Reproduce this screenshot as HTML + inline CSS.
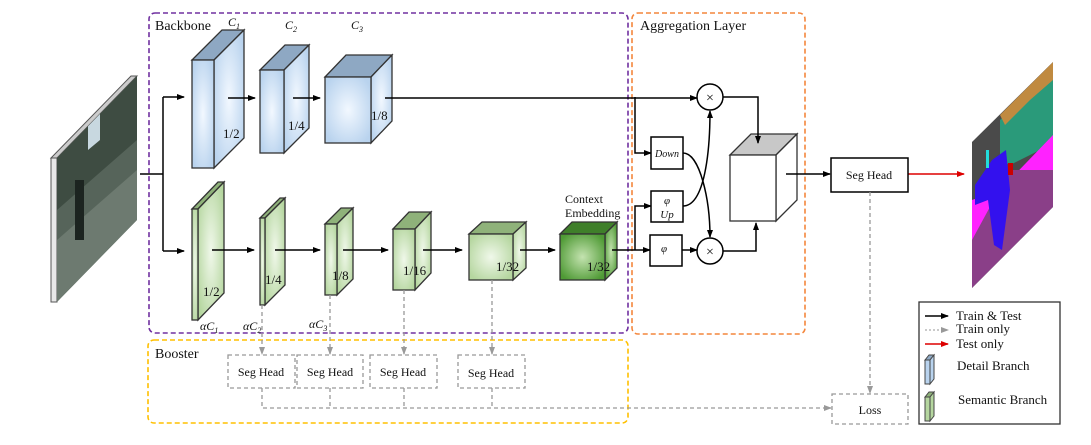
<!DOCTYPE html>
<html><head><meta charset="utf-8"><style>
html,body{margin:0;padding:0;background:#fff}
svg{display:block}
text{font-family:"Liberation Serif",serif;fill:#111}
</style></head><body>
<svg width="1091" height="445" viewBox="0 0 1091 445" xmlns="http://www.w3.org/2000/svg">
<defs>
<marker id="a" markerWidth="8" markerHeight="8" refX="7" refY="4" orient="auto" markerUnits="userSpaceOnUse"><path d="M0,1 L8,4 L0,7z" fill="#000"/></marker>
<marker id="ag" markerWidth="8" markerHeight="8" refX="7" refY="4" orient="auto" markerUnits="userSpaceOnUse"><path d="M0,1 L8,4 L0,7z" fill="#999"/></marker>
<marker id="ar" markerWidth="8" markerHeight="8" refX="7" refY="4" orient="auto" markerUnits="userSpaceOnUse"><path d="M0,1 L8,4 L0,7z" fill="#d00"/></marker>
<radialGradient id="bl" cx="50%" cy="50%" r="60%"><stop offset="0" stop-color="#f2f8ff"/><stop offset="1" stop-color="#b9d3ee"/></radialGradient>
<radialGradient id="gr" cx="50%" cy="50%" r="60%"><stop offset="0" stop-color="#f0f8ea"/><stop offset="1" stop-color="#b5d69f"/></radialGradient>
<radialGradient id="dg" cx="50%" cy="50%" r="60%"><stop offset="0" stop-color="#c4e3b0"/><stop offset="1" stop-color="#4f9a35"/></radialGradient>
<clipPath id="seg"><polygon points="972,142 1053,62 1053,207 972,288"/></clipPath>
<clipPath id="inp"><polygon points="57,158 137,76 137,220 57,302"/></clipPath>
</defs>

<!-- input image -->
<polygon points="51,158 131,76 137,76 57,158" fill="#ccc" stroke="#555" stroke-width="1"/>
<rect x="51" y="158" width="6" height="144" fill="#e8e8e8" stroke="#555" stroke-width="1"/>
<g clip-path="url(#inp)">
<rect x="57" y="70" width="82" height="240" fill="#56645a"/>
<polygon points="57,158 137,76 137,140 57,210" fill="#3e4c42"/>
<polygon points="88,125 100,113 100,140 88,150" fill="#c8d8e0"/>
<polygon points="57,240 137,170 137,220 57,302" fill="#6d7a70"/>
<rect x="75" y="180" width="9" height="60" fill="#1c2420"/>
</g>

<!-- group boxes -->
<rect x="149" y="13" width="479" height="320" rx="6" fill="none" stroke="#7030a0" stroke-width="1.6" stroke-dasharray="5,3"/>
<rect x="632" y="13" width="173" height="321" rx="6" fill="none" stroke="#f4863c" stroke-width="1.6" stroke-dasharray="5,3"/>
<rect x="148" y="340" width="480" height="83" rx="6" fill="none" stroke="#ffc000" stroke-width="1.6" stroke-dasharray="5,3"/>
<text x="155" y="30" font-size="14">Backbone</text>
<text x="640" y="30" font-size="14">Aggregation Layer</text>
<text x="155" y="358" font-size="14">Booster</text>

<g stroke="#000" stroke-width="1.5" fill="none">
<path d="M140,174 H163"/>
<path d="M163,97 V251"/>
<path d="M163,97 H184" marker-end="url(#a)"/>
<path d="M163,251 H184" marker-end="url(#a)"/>
</g>

<g stroke="#333" stroke-width="1.3">
<polygon points="192,60 222,30 244,30 214,60" fill="#8ea8c3"/>
<polygon points="214,60 244,30 244,138 214,168" fill="url(#bl)"/>
<rect x="192" y="60" width="22" height="108" fill="url(#bl)"/>
<polygon points="260,70 285,45 309,45 284,70" fill="#8ea8c3"/>
<polygon points="284,70 309,45 309,128 284,153" fill="url(#bl)"/>
<rect x="260" y="70" width="24" height="83" fill="url(#bl)"/>
<polygon points="325,77 346,55 392,55 371,77" fill="#8ea8c3"/>
<polygon points="371,77 392,55 392,121 371,143" fill="url(#bl)"/>
<rect x="325" y="77" width="46" height="66" fill="url(#bl)"/>
<polygon points="192,209 218,182 224,182 198,209" fill="#8fb27a"/>
<polygon points="198,209 224,182 224,293 198,320" fill="url(#gr)"/>
<rect x="192" y="209" width="6" height="111" fill="url(#gr)"/>
<polygon points="260,218 280,198 285,198 265,218" fill="#8fb27a"/>
<polygon points="265,218 285,198 285,285 265,305" fill="url(#gr)"/>
<rect x="260" y="218" width="5" height="87" fill="url(#gr)"/>
<polygon points="325,224 341,208 353,208 337,224" fill="#8fb27a"/>
<polygon points="337,224 353,208 353,279 337,295" fill="url(#gr)"/>
<rect x="325" y="224" width="12" height="71" fill="url(#gr)"/>
<polygon points="393,229 409,212 431,212 415,229" fill="#8fb27a"/>
<polygon points="415,229 431,212 431,273 415,290" fill="url(#gr)"/>
<rect x="393" y="229" width="22" height="61" fill="url(#gr)"/>
<polygon points="469,234 482,222 526,222 513,234" fill="#8fb27a"/>
<polygon points="513,234 526,222 526,268 513,280" fill="url(#gr)"/>
<rect x="469" y="234" width="44" height="46" fill="url(#gr)"/>
<polygon points="560,234 572,222 617,222 605,234" fill="#3f7f2a"/>
<polygon points="605,234 617,222 617,268 605,280" fill="url(#dg)"/>
<rect x="560" y="234" width="45" height="46" fill="url(#dg)"/>
<polygon points="730,155 751,134 797,134 776,155" fill="#c8c8c8"/>
<polygon points="776,155 797,134 797,200 776,221" fill="#fff"/>
<rect x="730" y="155" width="46" height="66" fill="#fff"/>
</g>

<g font-size="13" font-family="Liberation Mono,monospace">
<text x="223" y="138">1/2</text>
<text x="288" y="130">1/4</text>
<text x="371" y="120">1/8</text>
<text x="203" y="296">1/2</text>
<text x="265" y="284">1/4</text>
<text x="332" y="280">1/8</text>
<text x="403" y="275">1/16</text>
<text x="496" y="271">1/32</text>
<text x="587" y="271">1/32</text>
</g>
<g font-size="12" font-style="italic">
<text x="228" y="26">C<tspan font-size="8" dy="3">1</tspan></text>
<text x="285" y="29">C<tspan font-size="8" dy="3">2</tspan></text>
<text x="351" y="29">C<tspan font-size="8" dy="3">3</tspan></text>
<text x="200" y="330">αC<tspan font-size="8" dy="3">1</tspan></text>
<text x="243" y="330">αC<tspan font-size="8" dy="3">2</tspan></text>
<text x="309" y="328">αC<tspan font-size="8" dy="3">3</tspan></text>
</g>
<text x="565" y="203" font-size="12">Context</text>
<text x="565" y="217" font-size="12">Embedding</text>

<g stroke="#000" stroke-width="1.5" fill="none">
<path d="M228,98 H255" marker-end="url(#a)"/>
<path d="M293,98 H320" marker-end="url(#a)"/>
<path d="M385,98 H697" marker-end="url(#a)"/>
<path d="M212,250 H254" marker-end="url(#a)"/>
<path d="M275,250 H320" marker-end="url(#a)"/>
<path d="M343,250 H388" marker-end="url(#a)"/>
<path d="M423,250 H462" marker-end="url(#a)"/>
<path d="M520,250 H555" marker-end="url(#a)"/>
<path d="M612,250 H650" marker-end="url(#a)"/>
<path d="M635,97 V153 H651" marker-end="url(#a)"/>
<path d="M635,250 V206 H651" marker-end="url(#a)"/>
<path d="M682,250 H697" marker-end="url(#a)"/>
<path d="M683,153 C700,153 710,200 710,237" marker-end="url(#a)"/>
<path d="M683,206 C705,206 710,150 710,111" marker-end="url(#a)"/>
<path d="M723,97 H758 V143" marker-end="url(#a)"/>
<path d="M723,251 H756 V223" marker-end="url(#a)"/>
<path d="M786,174 H830" marker-end="url(#a)"/>
</g>
<path d="M908,174 H964" stroke="#d00" stroke-width="1.5" marker-end="url(#ar)"/>

<g stroke="#000" stroke-width="1.5" fill="#fff">
<circle cx="710" cy="97" r="13"/>
<circle cx="710" cy="251" r="13"/>
<rect x="651" y="137" width="32" height="32"/>
<rect x="651" y="191" width="32" height="31"/>
<rect x="650" y="235" width="32" height="31"/>
<rect x="831" y="158" width="77" height="34"/>
</g>
<text x="710" y="102" font-size="14" text-anchor="middle" font-family="Liberation Sans,sans-serif">×</text>
<text x="710" y="256" font-size="14" text-anchor="middle" font-family="Liberation Sans,sans-serif">×</text>
<text x="667" y="157" font-size="10" font-style="italic" text-anchor="middle">Down</text>
<text x="667" y="204" font-size="11" font-style="italic" text-anchor="middle">φ</text>
<text x="667" y="218" font-size="11" font-style="italic" text-anchor="middle">Up</text>
<text x="664" y="252" font-size="11" font-style="italic" text-anchor="middle">φ</text>
<text x="869" y="179" font-size="12" text-anchor="middle">Seg Head</text>

<g stroke="#999" stroke-width="1.3" fill="none" stroke-dasharray="4,3">
<path d="M262,305 V354" marker-end="url(#ag)"/>
<path d="M330,295 V354" marker-end="url(#ag)"/>
<path d="M404,290 V354" marker-end="url(#ag)"/>
<path d="M492,280 V354" marker-end="url(#ag)"/>
<path d="M262,388 V408 H831" marker-end="url(#ag)"/>
<path d="M330,388 V408"/>
<path d="M404,388 V408"/>
<path d="M492,388 V408"/>
<path d="M870,192 V393" marker-end="url(#ag)"/>
<rect x="228" y="355" width="67" height="33" fill="#fff"/>
<rect x="297" y="355" width="66" height="33" fill="#fff"/>
<rect x="370" y="355" width="67" height="33" fill="#fff"/>
<rect x="458" y="355" width="67" height="33" fill="#fff"/>
<rect x="832" y="394" width="76" height="30" fill="#fff"/>
</g>
<g font-size="12" text-anchor="middle">
<text x="261" y="376">Seg Head</text>
<text x="330" y="376">Seg Head</text>
<text x="403" y="376">Seg Head</text>
<text x="491" y="377">Seg Head</text>
<text x="870" y="414">Loss</text>
</g>

<!-- seg output -->
<g clip-path="url(#seg)">
<rect x="970" y="60" width="86" height="230" fill="#4a4a4a"/>
<polygon points="1000,120 1053,70 1053,150 1040,150 1010,165 1000,160" fill="#2a9a7a"/>
<polygon points="1000,115 1020,95 1053,62 1053,80 1030,100 1005,125" fill="#c08a40"/>
<polygon points="972,200 1000,190 1053,135 1053,175 972,245" fill="#ff22ff"/>
<polygon points="972,240 1010,170 1053,170 1053,207 972,288" fill="#8a3f88"/>
<polygon points="992,160 1006,150 1010,190 1002,250 994,245 988,200 975,205 975,185" fill="#3311ee"/>
<rect x="1008" y="163" width="5" height="12" fill="#c00"/>
<rect x="986" y="150" width="3" height="18" fill="#22dddd"/>
</g>

<rect x="919" y="302" width="141" height="122" fill="#fff" stroke="#333" stroke-width="1.3"/>
<path d="M925,316 H948" stroke="#000" stroke-width="1.5" marker-end="url(#a)"/>
<path d="M925,330 H948" stroke="#aaa" stroke-width="1.2" stroke-dasharray="2,2" marker-end="url(#ag)"/>
<path d="M925,344 H948" stroke="#d00" stroke-width="1.5" marker-end="url(#ar)"/>
<g font-size="13">
<text x="956" y="320">Train &amp; Test</text>
<text x="956" y="333">Train only</text>
<text x="956" y="348">Test only</text>
<text x="957" y="370">Detail Branch</text>
<text x="958" y="404">Semantic Branch</text>
</g>
<g stroke="#444" stroke-width="1">
<polygon points="925,360 929,355 934,355 930,360" fill="#8ea8c3"/>
<polygon points="930,360 934,355 934,379 930,384" fill="#b9d3ee"/>
<rect x="925" y="360" width="5" height="24" fill="#b9d3ee"/>
<polygon points="925,397 929,392 934,392 930,397" fill="#8fb27a"/>
<polygon points="930,397 934,392 934,416 930,421" fill="#b5d69f"/>
<rect x="925" y="397" width="5" height="24" fill="#b5d69f"/>
</g>
</svg>
</body></html>
